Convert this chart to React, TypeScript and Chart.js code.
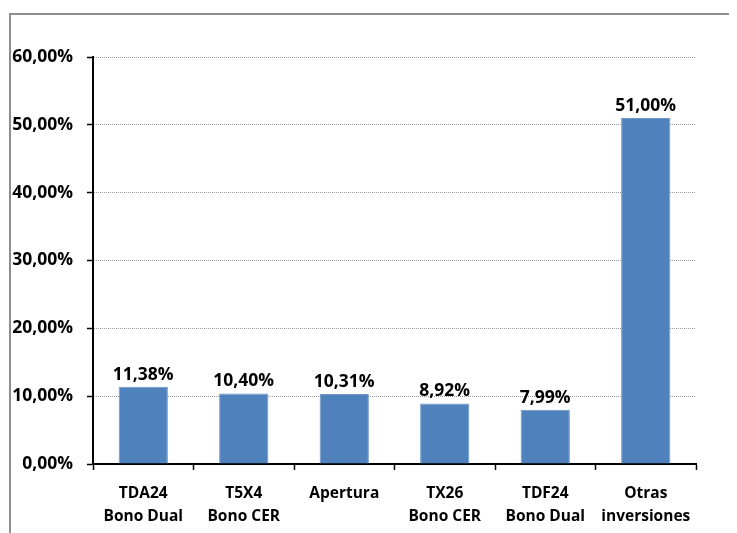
import React, { useEffect, useRef } from "react";
import { Chart, registerables } from "chart.js";

Chart.register(...registerables);

const categories: string[][] = [
  ["TDA24", "Bono Dual"],
  ["T5X4", "Bono CER"],
  ["Apertura"],
  ["TX26", "Bono CER"],
  ["TDF24", "Bono Dual"],
  ["Otras", "inversiones"],
];
const values: number[] = [11.38, 10.4, 10.31, 8.92, 7.99, 51.0];
const yMin = 0;
const yMax = 60;
const yStep = 10;

const FONT = "'Open Sans', Lato, sans-serif";
const fmt = (v: number) => v.toFixed(2).replace(".", ",") + "%";

const dataLabels = {
  id: "dataLabels",
  afterDatasetsDraw(chart: any) {
    const ctx = chart.ctx;
    const meta = chart.getDatasetMeta(0);
    ctx.save();
    ctx.font = `bold 17.5px ${FONT}`;
    ctx.fillStyle = "#000";
    ctx.textAlign = "center";
    ctx.textBaseline = "alphabetic";
    meta.data.forEach((bar: any, i: number) => {
      ctx.fillText(fmt(values[i]), bar.x, bar.y - 7);
    });
    ctx.restore();
  },
};

export default function App() {
  const ref = useRef<HTMLCanvasElement>(null);
  useEffect(() => {
    if (!ref.current) return;
    const chart = new Chart(ref.current, {
      type: "bar",
      data: {
        labels: categories,
        datasets: [
          {
            data: values,
            backgroundColor: "#4F81BD",
            borderColor: "#6f97c9",
            borderWidth: 1,
            barPercentage: 0.49,
            categoryPercentage: 1,
          },
        ],
      },
      options: {
        responsive: false,
        animation: false,
        layout: { padding: { top: 49, right: 41, left: 0, bottom: 0 } },
        plugins: {
          legend: { display: false },
          tooltip: { enabled: false },
        },
        scales: {
          x: {
            afterFit: (s: any) => {
              s.height = 69;
            },
            grid: {
              offset: true,
              drawOnChartArea: false,
              drawTicks: true,
              tickLength: 6,
              tickColor: "#000",
              tickWidth: 1.5,
            },
            border: { color: "#000", width: 2 },
            ticks: {
              color: "#000",
              padding: 12,
              font: { family: FONT, size: 15.5, weight: "bold", lineHeight: "23px" } as any,
              maxRotation: 0,
              autoSkip: false,
            },
          },
          y: {
            min: yMin,
            max: yMax,
            afterFit: (s: any) => {
              s.width = 85;
            },
            grid: {
              color: "#9a9a9a",
              lineWidth: 1,
              tickColor: "#000",
              tickWidth: 1.5,
              tickLength: 6,
              tickBorderDash: [],
            },
            border: { display: true, color: "#000", width: 2, dash: [1, 1] },
            ticks: {
              stepSize: yStep,
              color: "#000",
              padding: 14,
              font: { family: FONT, size: 17.5, weight: "bold" },
              callback: (v: any) => fmt(Number(v)),
            },
          },
        },
      },
      plugins: [dataLabels],
    });
    return () => chart.destroy();
  }, []);

  return (
    <div style={{ position: "relative", width: 729, height: 525, overflow: "hidden", background: "#fff" }}>
      <div
        style={{
          position: "absolute",
          left: 1,
          top: 5,
          width: 900,
          height: 900,
          borderTop: "2px solid #8e8e8e",
          borderLeft: "2px solid #8e8e8e",
        }}
      />
      <canvas ref={ref} width={729} height={525} style={{ position: "absolute", left: 0, top: 0, width: 729, height: 525 }} />
    </div>
  );
}
